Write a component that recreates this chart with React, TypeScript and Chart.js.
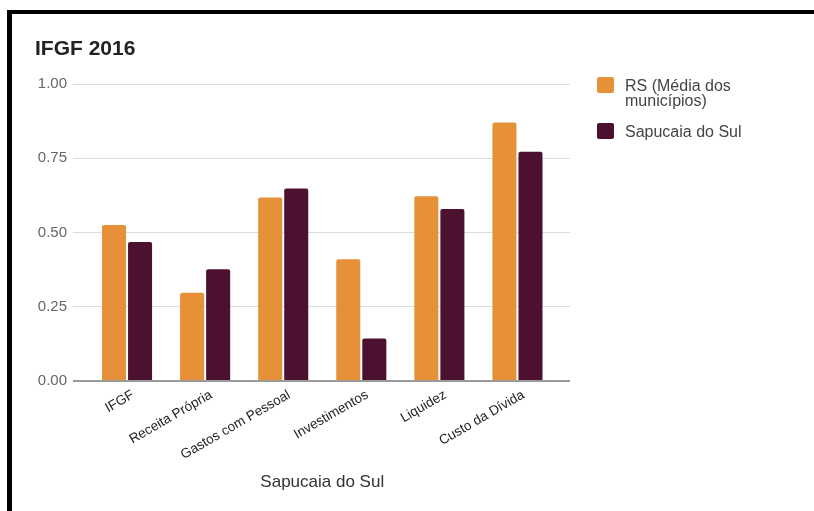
import React, { useEffect, useRef } from "react";
import { Chart, registerables } from "chart.js";

Chart.register(...registerables);

const chartTitle = "IFGF 2016";
const axisTitle = "Sapucaia do Sul";
const categories = [
  "IFGF",
  "Receita Própria",
  "Gastos com Pessoal",
  "Investimentos",
  "Liquidez",
  "Custo da Dívida",
];
const seriesNames = ["RS (Média dos municípios)", "Sapucaia do Sul"];
const rsValues = [0.525, 0.297, 0.618, 0.41, 0.622, 0.87];
const sapucaiaValues = [0.468, 0.376, 0.648, 0.143, 0.579, 0.772];
const yTicks = [0, 0.25, 0.5, 0.75, 1];
const seriesColors = ["#E69138", "#4C1130"];

const GRID = "#dcdcdc";
const BASE = "#9a9a9a";
const FONT = "Arial, 'Liberation Sans', sans-serif";

const gridExtend = {
  id: "gridExtend",
  beforeDatasetsDraw(chart: any) {
    const { ctx, chartArea, scales } = chart;
    const y = scales.y;
    ctx.save();
    y.ticks.forEach((t: any) => {
      const isBase = t.value === 0;
      const lw = isBase ? 2 : 1;
      const raw = y.getPixelForValue(t.value);
      const py = Math.round(raw - lw / 2) + lw / 2;
      ctx.strokeStyle = isBase ? BASE : GRID;
      ctx.lineWidth = lw;
      ctx.beginPath();
      ctx.moveTo(chartArea.right - 1, py);
      ctx.lineTo(chartArea.right + 13.5, py);
      ctx.stroke();
    });
    ctx.restore();
  },
};

export default function App() {
  const canvasRef = useRef<HTMLCanvasElement | null>(null);

  useEffect(() => {
    const canvas = canvasRef.current;
    if (!canvas) return;
    const chart = new Chart(canvas, {
      type: "bar",
      data: {
        labels: categories,
        datasets: [
          {
            label: seriesNames[0],
            data: rsValues,
            backgroundColor: seriesColors[0],
            borderRadius: 2,
            categoryPercentage: 0.667,
            barPercentage: 0.923,
          },
          {
            label: seriesNames[1],
            data: sapucaiaValues,
            backgroundColor: seriesColors[1],
            borderRadius: 2,
            categoryPercentage: 0.667,
            barPercentage: 0.923,
          },
        ],
      },
      options: {
        animation: false,
        responsive: false,
        maintainAspectRatio: false,
        layout: { padding: { left: 0, right: 257.5, top: 84, bottom: 0 } },
        plugins: {
          legend: { display: false },
          title: { display: false },
          tooltip: { enabled: false },
        },
        scales: {
          x: {
            grid: { display: false, drawTicks: false },
            border: { display: false },
            ticks: {
              maxRotation: 30,
              minRotation: 30,
              autoSkip: false,
              padding: 6,
              labelOffset: 6,
              color: "#222",
              font: { family: FONT, size: 13.5 },
            },
            title: {
              display: true,
              text: axisTitle,
              color: "#333",
              font: { family: FONT, size: 17 },
              padding: { top: 0, bottom: 18 },
            },
            afterFit(scale: any) {
              scale.height = 511 - 381;
            },
          },
          y: {
            min: 0,
            max: 1,
            afterBuildTicks(scale: any) {
              scale.ticks = yTicks.map((v) => ({ value: v }));
            },
            grid: {
              color: (c: any) => (c.tick && c.tick.value === 0 ? BASE : GRID),
              lineWidth: (c: any) => (c.tick && c.tick.value === 0 ? 2 : 1),
              drawTicks: true,
              tickLength: 15,
            },
            border: { display: false },
            ticks: {
              padding: 6,
              color: "#666",
              font: { family: FONT, size: 15 },
              callback: (v: any) => Number(v).toFixed(2),
            },
            afterFit(scale: any) {
              scale.width = 88;
            },
          },
        },
      },
      plugins: [gridExtend],
    });
    return () => chart.destroy();
  }, []);

  return (
    <div
      style={{
        position: "absolute",
        left: 0,
        top: 0,
        width: 814,
        height: 511,
        background: "#fff",
        overflow: "hidden",
        fontFamily: FONT,
      }}
    >
      <canvas
        ref={canvasRef}
        width={814}
        height={511}
        style={{ position: "absolute", left: 0, top: 0, width: 814, height: 511 }}
      />
      <div
        style={{
          position: "absolute",
          left: 7,
          top: 10,
          right: 0,
          bottom: 0,
          borderLeft: "5px solid #000",
          borderTop: "4px solid #000",
          pointerEvents: "none",
        }}
      />
      <div
        style={{
          position: "absolute",
          left: 35,
          top: 37,
          fontSize: 21,
          lineHeight: "21px",
          fontWeight: "bold",
          color: "#222",
          whiteSpace: "nowrap",
        }}
      >
        {chartTitle}
      </div>
      {seriesNames.map((name, i) => (
        <div
          key={name}
          style={{
            position: "absolute",
            left: 597,
            top: i === 0 ? 77 : 123,
            display: "flex",
            alignItems: "flex-start",
          }}
        >
          <div
            style={{
              width: 17,
              height: 16,
              borderRadius: 2,
              background: seriesColors[i],
              flex: "none",
            }}
          />
          <div
            style={{
              marginLeft: 11,
              marginTop: 1,
              width: 150,
              fontSize: 16,
              lineHeight: "15px",
              color: "#444",
            }}
          >
            {name}
          </div>
        </div>
      ))}
    </div>
  );
}
